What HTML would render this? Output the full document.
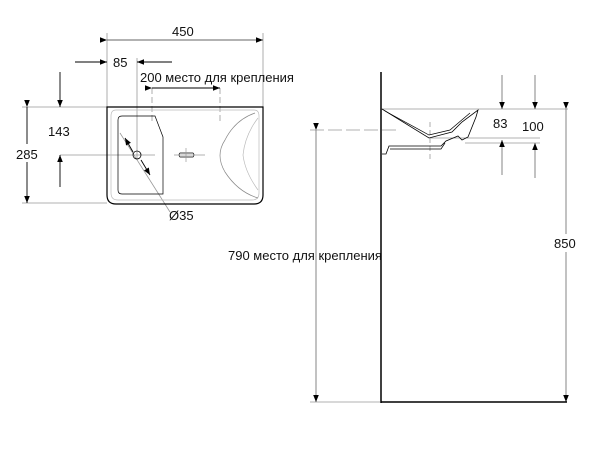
<!DOCTYPE html>
<html><head><style>body{margin:0;background:#fff}svg{display:block}text{font-family:"Liberation Sans","DejaVu Sans",sans-serif;font-size:13px;fill:#111}</style></head>
<body>
<svg width="600" height="450" viewBox="0 0 600 450">
<defs>
<marker id="a" viewBox="0 0 10 10" refX="10" refY="5" markerWidth="16" markerHeight="7" orient="auto" markerUnits="userSpaceOnUse"><path d="M0,1 L10,5 L0,9 z" fill="#000"/></marker>
</defs>
<g stroke="#999" stroke-width="0.8" fill="none">
<line x1="107" y1="33" x2="107" y2="107"/><line x1="263" y1="33" x2="263" y2="107"/>
<line x1="137" y1="58" x2="137" y2="160"/>
<line x1="22" y1="107" x2="107" y2="107"/><line x1="22" y1="203" x2="107" y2="203"/>
<line x1="60" y1="155" x2="155" y2="155"/>
<line x1="152" y1="88" x2="152" y2="122" stroke-dasharray="6,3"/><line x1="220" y1="88" x2="220" y2="122" stroke-dasharray="6,3"/>
<line x1="120" y1="133" x2="170" y2="212"/>
<line x1="381" y1="109" x2="568" y2="109"/>
<line x1="310" y1="130" x2="400" y2="130" stroke-dasharray="14,4"/>
<line x1="310" y1="402" x2="380" y2="402"/>
<line x1="430" y1="138" x2="540" y2="138"/><line x1="465" y1="143" x2="540" y2="143"/>
<line x1="430" y1="122" x2="430" y2="160" stroke-dasharray="5,3"/>
</g>
<g stroke="#000" stroke-width="0.9" fill="none">
<line x1="107" y1="40" x2="263" y2="40" marker-start="url(#a)" marker-end="url(#a)" stroke="#666"/>
<line x1="75" y1="62" x2="107" y2="62" marker-end="url(#a)"/>
<line x1="172" y1="62" x2="137" y2="62" marker-end="url(#a)"/>
<line x1="152" y1="88" x2="220" y2="88" marker-start="url(#a)" marker-end="url(#a)"/>
<line x1="27" y1="107" x2="27" y2="203" marker-start="url(#a)" marker-end="url(#a)"/>
<line x1="60" y1="72" x2="60" y2="107" marker-end="url(#a)"/>
<line x1="60" y1="187" x2="60" y2="155" marker-end="url(#a)"/>
<line x1="133" y1="152" x2="125" y2="138" marker-end="url(#a)"/>
<line x1="141" y1="160" x2="150" y2="175" marker-end="url(#a)"/>
<line x1="566" y1="109" x2="566" y2="402" marker-start="url(#a)" marker-end="url(#a)" stroke="#777"/>
<line x1="316" y1="130" x2="316" y2="402" marker-start="url(#a)" marker-end="url(#a)" stroke="#777"/>
<line x1="502" y1="75" x2="502" y2="109" marker-end="url(#a)" stroke="#777"/>
<line x1="502" y1="175" x2="502" y2="140" marker-end="url(#a)" stroke="#777"/>
<line x1="535" y1="75" x2="535" y2="109" marker-end="url(#a)" stroke="#777"/>
<line x1="535" y1="178" x2="535" y2="143" marker-end="url(#a)" stroke="#777"/>
<path d="M107,107 H263 V195 Q263,204 254,204 H116 Q107,204 107,195 Z" stroke-width="1.2"/>
<path d="M116,110 H254 Q259,110 259,116 V193 Q259,200 252,200 H118 Q111,200 111,193 V116 Q111,110 116,110" stroke="#bbb" stroke-width="0.7"/>
<path d="M122,116 H155 L163,137 V194 H122 Q118,194 118,190 V120 Q118,116 122,116 Z" stroke-width="0.7"/>
<circle cx="137" cy="155" r="4" stroke-width="0.8"/>
<path d="M180,153 H193 Q195,155 193,157 H180 Q178,155 180,153 Z" stroke-width="0.7"/>
<line x1="174" y1="155" x2="205" y2="155" stroke="#999" stroke-width="0.7"/>
<line x1="186" y1="148" x2="186" y2="162" stroke="#999" stroke-width="0.7"/>
<path d="M255,113 Q235,120 225,140 Q215,155 225,172 Q238,192 258,198" stroke="#888" stroke-width="0.7"/>
<path d="M258,118 Q245,135 243,155 Q245,172 258,190" stroke="#bbb" stroke-width="0.7"/>
<line x1="381" y1="72" x2="381" y2="403" stroke-width="1.5"/>
<line x1="381" y1="402" x2="567" y2="402" stroke-width="1.5"/>
<path d="M382,109 L429,138 L452,132 L462,122 L478,110 L476,117 L468,137 L462,140 L458,136 L446,141 L441,146 L389,146 L386,154 L382,154" stroke-width="0.8"/>
<path d="M385,111 L429,135 L450,130 L470,113 M390,149 L441,149 L445,143" stroke-width="0.7"/>
</g>
<rect x="15" y="144" width="24" height="18" fill="#fff"/>
<rect x="553" y="234" width="26" height="18" fill="#fff"/>
<text x="172" y="36">450</text>
<text x="113" y="67">85</text>
<text x="140" y="82">200 место для крепления</text>
<text x="48" y="136">143</text>
<text x="16" y="159">285</text>
<text x="169" y="220">Ø35</text>
<text x="493" y="128">83</text>
<text x="522" y="131">100</text>
<text x="554" y="248">850</text>
<text x="228" y="260">790 место для крепления</text>
</svg>
</body></html>
